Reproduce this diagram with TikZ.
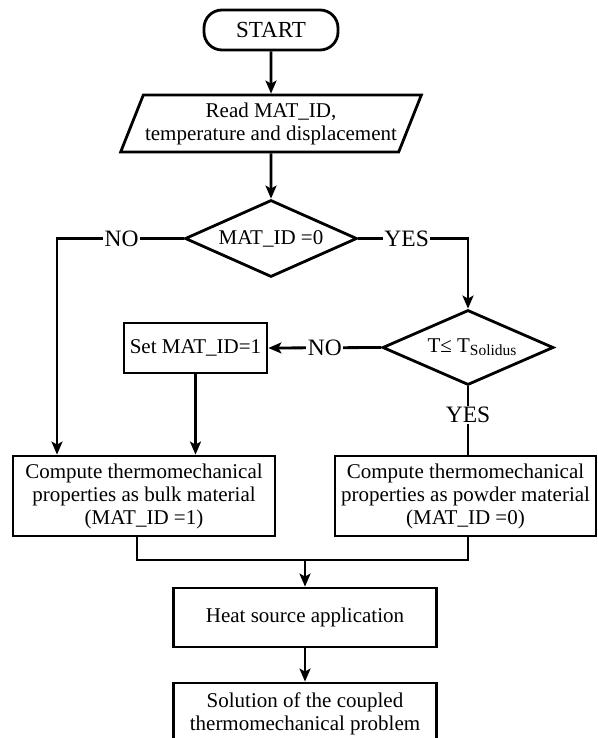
\documentclass[tikz,border=0pt]{standalone}
\usepackage{fontspec}
\setmainfont{Liberation Serif}
\usetikzlibrary{shapes.geometric,arrows.meta}
\begin{document}
\begin{tikzpicture}[x=1pt,y=-1pt, line width=2.8pt,
 box/.style={draw, rectangle, inner sep=0pt, align=center, font=\fontsize{21}{23}\selectfont},
 dec/.style={draw, diamond, inner sep=0pt, aspect=2.25, align=center, font=\fontsize{21}{23}\selectfont},
 lbl/.style={fill=white, inner sep=1.5pt, font=\fontsize{23.5}{25}\selectfont},
 arr/.style={-{Stealth[length=13pt,width=11pt,inset=3pt]}}
]
\useasboundingbox (0,0) rectangle (597,738);

\node[box, rounded corners=18pt, minimum width=134pt, minimum height=40pt, font=\fontsize{23}{25}\selectfont] (start) at (271,30) {START};
\node[draw, trapezium, trapezium left angle=62, trapezium right angle=118, trapezium stretches=true,
      minimum width=302pt, minimum height=57pt, inner sep=0pt, align=center,
      font=\fontsize{21}{23}\selectfont] (read) at (271,123.5) {Read MAT\_ID,\\temperature and displacement};
\node[dec, minimum width=172pt, minimum height=77pt] (d1) at (271,238.5) {MAT\_ID =0};
\node[dec, minimum width=171pt, minimum height=75pt] (d2) at (468,347.5) {\hspace*{8pt}T≤ T\raisebox{-0.35ex}{\fontsize{15.5}{16}\selectfont Solidus}};
\node[box, minimum width=143pt, minimum height=50pt] (set) at (195.5,348) {Set MAT\_ID=1};
\node[box, minimum width=262pt, minimum height=80pt] (bulk) at (144,496) {Compute thermomechanical\\properties as bulk material\\(MAT\_ID =1)};
\node[box, minimum width=261pt, minimum height=80pt] (powder) at (465.5,496) {Compute thermomechanical\\properties as powder material\\(MAT\_ID =0)};
\node[box, minimum width=263pt, minimum height=59pt] (heat) at (305,617.5) {Heat source application};
\node[box, minimum width=263pt, minimum height=62pt] (sol) at (305,714) {Solution of the coupled\\thermomechanical problem};

\coordinate (c1) at (57,238.5);
\coordinate (c2) at (468,238.5);
\coordinate (m) at (305,560);

\draw[arr] (start) -- (read);
\draw[arr] (read) -- (d1);
\draw[arr] (d1.west) -- node[lbl, pos=0.49]{NO} (c1) -- (c1 |- bulk.north);
\draw[arr] (d1.east) -- node[lbl, pos=0.44]{YES} (c2) -- (d2.north);
\draw[arr] (d2.west) -- node[lbl]{NO} (set.east);
\draw[arr] (set.south) -- (set.south |- bulk.north);
\draw (d2.south) -- node[lbl, pos=0.42, inner xsep=0pt]{YES} (d2.south |- powder.north);
\draw ([xshift=-7pt]bulk.south) |- (m) -| (d2.south |- powder.south);
\draw[arr] (m) -- (heat.north -| m);
\draw[arr] (heat) -- (sol);
\end{tikzpicture}
\end{document}
